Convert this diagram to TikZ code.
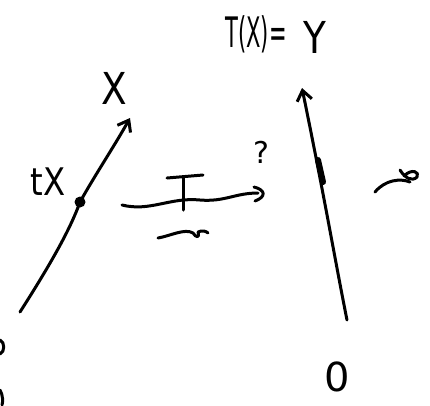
\documentclass[tikz,border=0pt]{standalone}
\usepackage{fontspec}
\setmainfont{DejaVu Sans}
\setsansfont{DejaVu Sans}
\usetikzlibrary{arrows.meta}
\begin{document}
\begin{tikzpicture}[x=1pt,y=-1pt,
  ink/.style={line width=3pt,line cap=round,line join=round},
  hand/.style={font=\fontsize{44}{44}\selectfont\sffamily,inner sep=0pt},
  tip/.style={-{Straight Barb[length=10pt,width=15pt,line width=3pt]}}]
\useasboundingbox (0,0) rectangle (430,405);
% left vector
\coordinate (o1) at (20,312);
\coordinate (x1) at (130,118);
\node[hand,xscale=0.85] (X) at (114,88) {X};
\node[hand,font=\fontsize{38}{38}\selectfont\sffamily,xscale=0.85] (tX) at (48,182) {tX};
\node[circle,fill,inner sep=0pt,minimum size=11pt] (dot) at (80,202) {};
\draw[ink,tip] (o1) .. controls (50,265) and (70,230) .. (dot.center) .. controls (95,175) and (115,145) .. (x1);
% map T
\coordinate (ts) at (122,205);
\coordinate (te) at (263,193);
\draw[ink] (ts) .. controls (150,212) and (170,197) .. (200,200) .. controls (225,202) and (235,193) .. (258,193);
\draw[ink] (254,187) .. controls (266,190) and (266,197) .. (255,201);
\draw[ink] (167,178) -- (203,175);
\draw[ink] (183,177) -- (183,210);
\node[font=\fontsize{30}{30}\selectfont\sffamily] (q) at (261,152) {?};
% squiggle below
\coordinate (s1) at (158,238);
\coordinate (s2) at (208,233);
\draw[ink] (s1) .. controls (170,236) and (185,228) .. (193,233) .. controls (196,238) and (200,238) .. (198,232) .. controls (202,230) and (206,231) .. (s2);
% right vector
\coordinate (o2) at (347,320);
\coordinate (y2) at (302,88);
\draw[ink,tip] (o2) .. controls (335,260) and (325,200) .. (y2);
\draw[line width=6pt,line cap=round] (318,160) -- (323,182);
\node[font=\fontsize{42}{42}\selectfont\sffamily,inner sep=0pt,xscale=0.5] (TX) at (256,34) {T(X)=};
\node[hand,xscale=0.85] (Y) at (315,37) {Y};
\node[hand,font=\fontsize{40}{40}\selectfont\sffamily] (zero) at (337,377) {0};
% right scribble
\draw[ink] (375,192) .. controls (385,180) and (400,178) .. (410,182);
\draw[ink] (400,170) .. controls (405,178) and (412,182) .. (417,177) .. controls (420,172) and (412,168) .. (404,176);
% left edge partial marks
\draw[ink] (0,340) .. controls (5,342) and (5,352) .. (0,354);
\draw[ink] (0,390) .. controls (3,395) and (3,402) .. (2,405);
\end{tikzpicture}
\end{document}
